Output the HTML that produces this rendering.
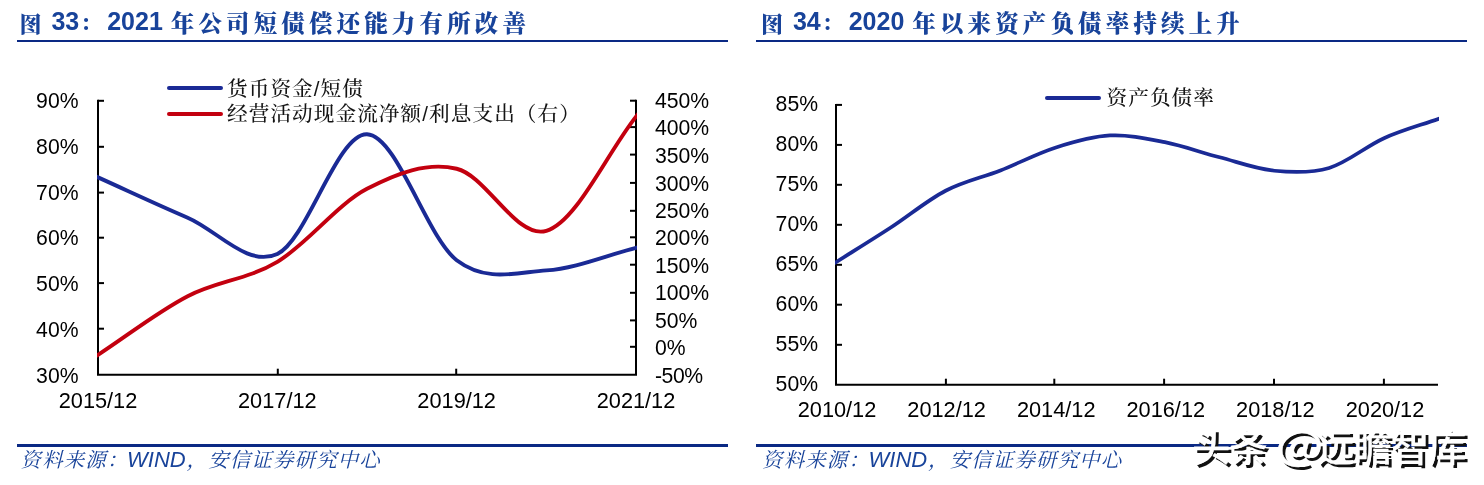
<!DOCTYPE html>
<html lang="zh-CN"><head><meta charset="utf-8"><title>图 33 / 图 34</title>
<style>
html,body{margin:0;padding:0;background:#fff;}
body{width:1484px;height:485px;overflow:hidden;}
svg{display:block;will-change:transform;}
.ax{font-family:"Liberation Sans", "Noto Sans CJK SC", sans-serif;font-size:21.2px;fill:#000000;}
.lg{font-family:"Liberation Sans", "Noto Serif CJK SC", serif;font-size:20.6px;letter-spacing:1.1px;font-weight:500;fill:#141414;}
.tt{font-family:"Liberation Sans","Noto Serif CJK SC",serif;font-weight:bold;fill:#18439a;}
.ft{font-family:"Liberation Sans","Noto Serif CJK SC",serif;font-style:italic;fill:#18439a;font-size:21.5px;}
.wm{font-family:"Liberation Sans","Noto Sans CJK SC",sans-serif;font-size:38px;font-weight:500;letter-spacing:-0.8px;}
</style></head><body>
<svg width="1484" height="485" viewBox="0 0 1484 485">
<rect x="0" y="0" width="1484" height="485" fill="#ffffff"/>
<g fill="#0a2984">
<rect x="17" y="40" width="711" height="2"/>
<rect x="756" y="40" width="711" height="2"/>
<rect x="17" y="444" width="711" height="3"/>
<rect x="756" y="444" width="711" height="3"/>
</g>
<text class="tt">
<tspan x="19.60" y="31.6" font-size="22.0" font-weight="900">图</tspan>
<tspan x="51.40" y="29.9" font-size="25">33</tspan>
<tspan x="80.60" y="30.0" font-size="19.5" font-weight="900">：</tspan>
<tspan x="107.20" y="29.9" font-size="25">2021</tspan>
<tspan x="170.75" y="31.6" font-size="23.5" font-weight="900" letter-spacing="4.14">年公司短债偿还能力有所改善</tspan>
</text>
<text class="tt">
<tspan x="761.10" y="31.6" font-size="22.0" font-weight="900">图</tspan>
<tspan x="792.90" y="29.9" font-size="25">34</tspan>
<tspan x="822.10" y="30.0" font-size="19.5" font-weight="900">：</tspan>
<tspan x="848.70" y="29.9" font-size="25">2020</tspan>
<tspan x="912.25" y="31.6" font-size="23.5" font-weight="900" letter-spacing="4.14">年以来资产负债率持续上升</tspan>
</text>
<text class="ft">
<tspan x="20.60" y="466.8" font-size="20.4" letter-spacing="1.20">资料来源：</tspan>
<tspan x="127.00" y="466.6" font-size="22">WIND</tspan>
<tspan x="186.60" y="466.8" font-size="20.4" letter-spacing="1.20">，安信证券研究中心</tspan>
</text>
<text class="ft">
<tspan x="762.10" y="466.8" font-size="20.4" letter-spacing="1.20">资料来源：</tspan>
<tspan x="868.50" y="466.6" font-size="22">WIND</tspan>
<tspan x="928.10" y="466.8" font-size="20.4" letter-spacing="1.20">，安信证券研究中心</tspan>
</text>
<g stroke="#000000" stroke-width="2" fill="none" stroke-linecap="butt">
<path d="M98 99.8 V374.7 H636 V99.7"/>
<path d="M98 100.80 h6"/>
<path d="M98 146.80 h6"/>
<path d="M98 192.60 h6"/>
<path d="M98 237.70 h6"/>
<path d="M98 283.10 h6"/>
<path d="M98 328.70 h6"/>
<path d="M636 100.70 h-6"/>
<path d="M636 127.10 h-6"/>
<path d="M636 154.60 h-6"/>
<path d="M636 182.90 h-6"/>
<path d="M636 210.80 h-6"/>
<path d="M636 237.30 h-6"/>
<path d="M636 264.70 h-6"/>
<path d="M636 292.80 h-6"/>
<path d="M636 320.40 h-6"/>
<path d="M636 346.80 h-6"/>
<path d="M277.80 374.7 v-6"/>
<path d="M456.20 374.7 v-6"/>
</g>
<text class="ax" x="78.5" y="108.05" text-anchor="end">90%</text>
<text class="ax" x="78.5" y="153.85" text-anchor="end">80%</text>
<text class="ax" x="78.5" y="199.65" text-anchor="end">70%</text>
<text class="ax" x="78.5" y="245.45" text-anchor="end">60%</text>
<text class="ax" x="78.5" y="291.25" text-anchor="end">50%</text>
<text class="ax" x="78.5" y="337.05" text-anchor="end">40%</text>
<text class="ax" x="78.5" y="382.85" text-anchor="end">30%</text>
<text class="ax" x="655" y="108.15">450%</text>
<text class="ax" x="655" y="135.05">400%</text>
<text class="ax" x="655" y="163.25">350%</text>
<text class="ax" x="655" y="190.65">300%</text>
<text class="ax" x="655" y="218.15">250%</text>
<text class="ax" x="655" y="245.05">200%</text>
<text class="ax" x="655" y="272.55">150%</text>
<text class="ax" x="655" y="300.05">100%</text>
<text class="ax" x="655" y="328.25">50%</text>
<text class="ax" x="655" y="354.85">0%</text>
<text class="ax" x="655" y="382.75" letter-spacing="-0.45">-50%</text>
<text class="ax" x="98.00" y="407.9" style="font-size:21.75px" text-anchor="middle">2015/12</text>
<text class="ax" x="277.33" y="407.9" style="font-size:21.75px" text-anchor="middle">2017/12</text>
<text class="ax" x="456.67" y="407.9" style="font-size:21.75px" text-anchor="middle">2019/12</text>
<text class="ax" x="636.00" y="407.9" style="font-size:21.75px" text-anchor="middle">2021/12</text>
<clipPath id="cl"><rect x="97" y="60" width="540" height="330"/></clipPath>
<clipPath id="cr"><rect x="835" y="60" width="604" height="340"/></clipPath>
<g fill="none" stroke-width="3.9" stroke-linecap="butt" stroke-linejoin="round" clip-path="url(#cl)">
<path stroke="#1a2a95" d="M93.00 175.13 L98.00 177.38 C127.89 190.81 157.78 204.92 187.67 217.67 C217.56 230.42 247.44 267.80 277.33 253.90 C307.22 240.00 337.11 133.22 367.00 134.27 C396.89 135.32 426.78 237.50 456.67 260.18 C486.56 282.87 516.44 272.43 546.33 270.38 C576.22 268.33 606.11 255.37 636.00 247.86 L641.00 246.60"/>
<path stroke="#c3000f" d="M93.00 358.10 L98.00 354.83 C127.89 335.29 157.78 311.71 187.67 296.21 C217.56 280.71 247.44 279.74 277.33 261.84 C307.22 243.94 337.11 204.33 367.00 188.81 C396.89 173.29 426.78 161.73 456.67 168.73 C486.56 175.73 516.44 239.50 546.33 230.82 C576.22 222.13 606.11 154.69 636.00 116.62 L641.00 110.25"/>
</g>
<g fill="none" stroke-width="4" stroke-linecap="round">
<path stroke="#1a2a95" d="M169 88 H221"/>
<path stroke="#c3000f" d="M169 114 H221"/>
</g>
<text class="lg" x="227" y="96.3">货币资金/短债</text>
<text class="lg" x="227" y="121.4">经营活动现金流净额/利息支出（右）</text>
<g stroke="#000000" stroke-width="2" fill="none">
<path d="M836 103.9 V384.7 H1438"/>
<path d="M836 104.90 h6"/>
<path d="M836 144.90 h6"/>
<path d="M836 184.80 h6"/>
<path d="M836 224.80 h6"/>
<path d="M836 264.80 h6"/>
<path d="M836 304.70 h6"/>
<path d="M836 344.80 h6"/>
<path d="M945.90 384.7 v-6"/>
<path d="M1054.30 384.7 v-6"/>
<path d="M1164.10 384.7 v-6"/>
<path d="M1274.00 384.7 v-6"/>
<path d="M1383.90 384.7 v-6"/>
</g>
<text class="ax" x="818" y="111.30" text-anchor="end">85%</text>
<text class="ax" x="818" y="151.30" text-anchor="end">80%</text>
<text class="ax" x="818" y="191.30" text-anchor="end">75%</text>
<text class="ax" x="818" y="231.30" text-anchor="end">70%</text>
<text class="ax" x="818" y="271.30" text-anchor="end">65%</text>
<text class="ax" x="818" y="311.30" text-anchor="end">60%</text>
<text class="ax" x="818" y="351.30" text-anchor="end">55%</text>
<text class="ax" x="818" y="391.30" text-anchor="end">50%</text>
<text class="ax" x="837.00" y="417.1" style="font-size:21.75px" text-anchor="middle">2010/12</text>
<text class="ax" x="946.60" y="417.1" style="font-size:21.75px" text-anchor="middle">2012/12</text>
<text class="ax" x="1056.20" y="417.1" style="font-size:21.75px" text-anchor="middle">2014/12</text>
<text class="ax" x="1165.80" y="417.1" style="font-size:21.75px" text-anchor="middle">2016/12</text>
<text class="ax" x="1275.40" y="417.1" style="font-size:21.75px" text-anchor="middle">2018/12</text>
<text class="ax" x="1385.00" y="417.1" style="font-size:21.75px" text-anchor="middle">2020/12</text>
<g fill="none" stroke-width="3.7" stroke-linecap="butt" stroke-linejoin="round" clip-path="url(#cr)">
<path stroke="#1a2a95" d="M831.00 265.36 L836.00 262.20 C854.27 250.65 872.53 239.47 890.80 227.56 C909.07 215.65 927.33 200.26 945.60 190.74 C963.87 181.22 982.13 177.62 1000.40 170.44 C1018.67 163.26 1036.93 153.51 1055.20 147.67 C1073.47 141.83 1091.73 136.33 1110.00 135.42 C1128.27 134.50 1146.53 138.54 1164.80 142.18 C1183.07 145.82 1201.33 152.52 1219.60 157.28 C1237.87 162.04 1256.13 168.96 1274.40 170.74 C1292.67 172.52 1310.93 173.37 1329.20 167.95 C1347.47 162.53 1365.73 146.41 1384.00 138.21 C1402.27 130.01 1420.53 125.24 1438.80 118.76 L1443.80 116.99"/>
</g>
<path fill="none" stroke-width="4" stroke-linecap="round" stroke="#1a2a95" d="M1047 98 H1099"/>
<text class="lg" x="1106.5" y="104.8">资产负债率</text>
<g fill="#111111">
<text class="wm" x="1195.30" y="463.90">头条</text>
<text class="wm" style="font-family:'Noto Sans CJK SC',sans-serif" transform="translate(1278.50 463.40) scale(1.30 1.07)" x="0" y="0">@</text>
<text class="wm" x="1319.60" y="463.90">远瞻智库</text>
</g>
<g fill="#ffffff" stroke="#ffffff" stroke-width="0.3" stroke-linejoin="round">
<text class="wm" x="1192.30" y="460.90">头条</text>
<text class="wm" style="font-family:'Noto Sans CJK SC',sans-serif" transform="translate(1275.50 460.40) scale(1.30 1.07)" x="0" y="0">@</text>
<text class="wm" x="1316.60" y="460.90">远瞻智库</text>
</g>
</svg>
</body></html>
